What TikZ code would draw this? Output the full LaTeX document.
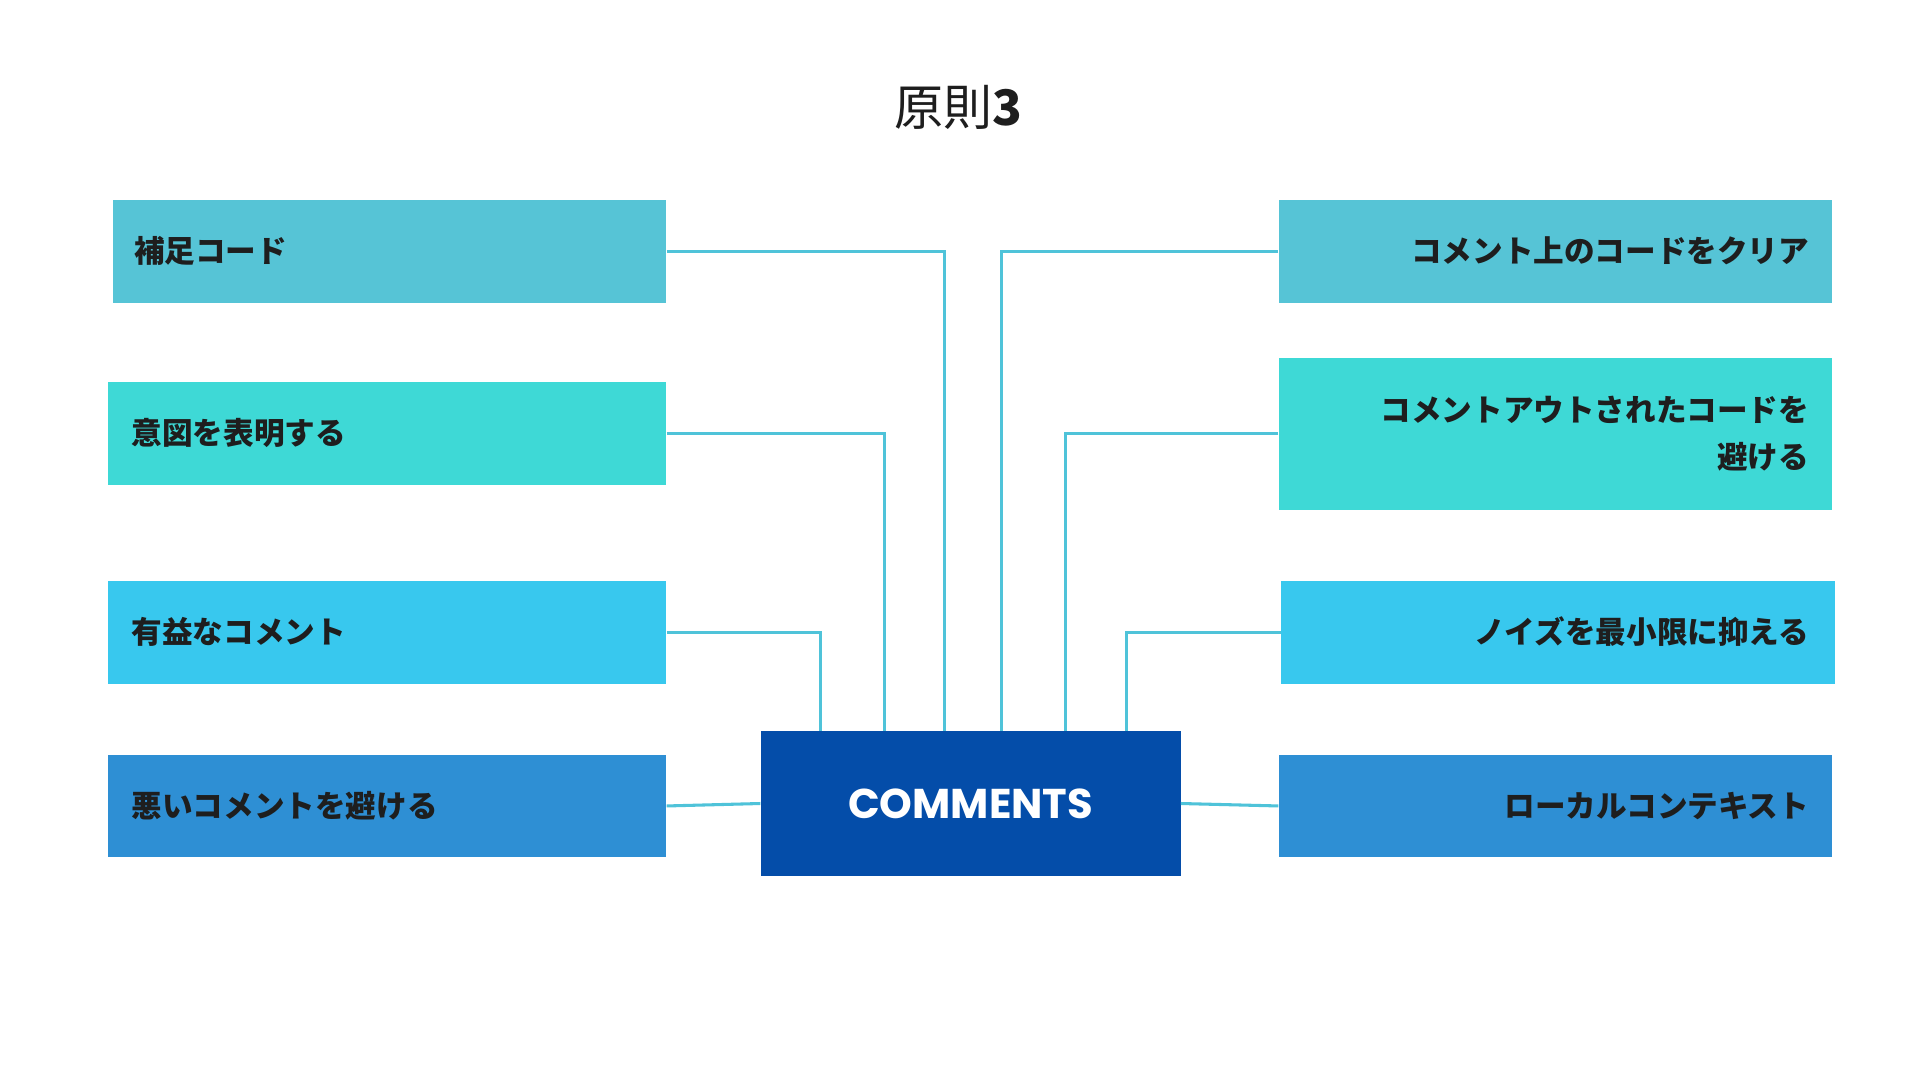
\documentclass[tikz,border=0pt]{standalone}
\usepackage{fontspec}
\newfontfamily\cjk{Noto Sans CJK JP}
\newfontfamily\pop{Poppins}
\definecolor{c1}{HTML}{56C4D6}
\definecolor{c2}{HTML}{3ED9D6}
\definecolor{c3}{HTML}{38C8EE}
\definecolor{c4}{HTML}{2E8FD4}
\definecolor{cc}{HTML}{044DA9}
\definecolor{ln}{HTML}{4FC3D9}
\definecolor{tx}{HTML}{1E1E1E}
\begin{document}
\begin{tikzpicture}[x=1pt,y=-1pt,
  bx/.style={draw=none,inner sep=0,minimum height=84pt,minimum width=452pt,anchor=north west},
  lt/.style={font=\cjk\bfseries\fontsize{25}{38}\selectfont,text=tx},
  cn/.style={draw=ln,line width=2.5pt}]
\useasboundingbox[fill=white] (0,0) rectangle (1568,882);
\node[font=\cjk\fontsize{40}{48}\selectfont,text=tx] (t) at (783,88) {原則\textbf{3}};
% left
\node[bx,fill=c1,minimum width=452pt] (l1) at (92,163) {};
\node[bx,fill=c2,minimum width=456pt] (l2) at (88,312) {};
\node[bx,fill=c3,minimum width=456pt] (l3) at (88,474) {};
\node[bx,fill=c4,minimum width=456pt] (l4) at (88,616) {};
\node[lt,anchor=west] (lt1) at (106,205) {補足コード};
\node[lt,anchor=west] (lt2) at (104,354) {意図を表明する};
\node[lt,anchor=west] (lt3) at (104,516) {有益なコメント};
\node[lt,anchor=west] (lt4) at (104,658) {悪いコメントを避ける};
% right
\node[bx,fill=c1] (r1) at (1044,163) {};
\node[bx,fill=c2,minimum height=124pt] (r2) at (1044,292) {};
\node[bx,fill=c3] (r3) at (1046,474) {};
\node[bx,fill=c4] (r4) at (1044,616) {};
\node[lt,anchor=east] (rt1) at (1481,205) {コメント上のコードをクリア};
\node[lt,anchor=east,align=right] (rt2) at (1481,354) {コメントアウトされたコードを\\避ける};
\node[lt,anchor=east] (rt3) at (1481,516) {ノイズを最小限に抑える};
\node[lt,anchor=east] (rt4) at (1481,658) {ローカルコンテキスト};
% center
\node[fill=cc,minimum width=343pt,minimum height=118pt,inner sep=0,anchor=north west] (c) at (621,597) {};
\node[font=\pop\bfseries\fontsize{34}{40}\selectfont,text=white] (ct) at (c.center) {COMMENTS};
% connectors
\draw[cn] (l1.east) -| ([xshift=-21.5pt]c.north);
\draw[cn] (l2.east) -| ([xshift=-70.5pt]c.north);
\draw[cn] (l3.east) -| ([xshift=-122.5pt]c.north);
\draw[cn] (l4.east) -- (c.west);
\draw[cn] (r1.west) -| ([xshift=25.5pt]c.north);
\draw[cn] (r2.west) -| ([xshift=77.5pt]c.north);
\draw[cn] (r3.west) -| ([xshift=127.5pt]c.north);
\draw[cn] (r4.west) -- (c.east);
\end{tikzpicture}
\end{document}
